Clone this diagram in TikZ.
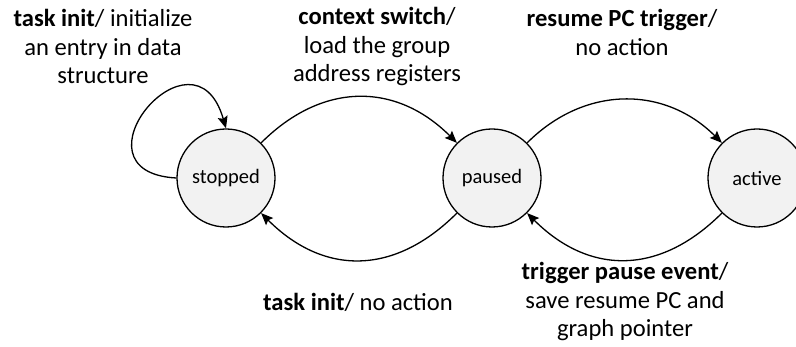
\documentclass[tikz,border=0pt]{standalone}
\usepackage{fontspec}
\setmainfont{Carlito}
\usetikzlibrary{arrows.meta}
\definecolor{statefill}{HTML}{F2F2F2}
\tikzset{
  state/.style={circle, draw=black, line width=1.3pt, fill=statefill,
    minimum size=98pt, inner sep=0pt, font=\fontsize{20.5}{24}\selectfont},
  trans/.style={draw=black, line width=1.3pt,
    -{Stealth[length=12pt,width=10pt,inset=2pt]}},
  lbl/.style={align=center, inner sep=0pt, font=\fontsize{24.6}{28.5}\selectfont}
}
\begin{document}
\begin{tikzpicture}[x=1pt,y=1pt]
  \clip (0,0) rectangle (796,347);
  % states
  \node[state] (s) at (226,169) {stopped};
  \node[state] (p) at (492,169) {paused};
  \node[state] (a) at (757,169) {active};
  % transitions
  \draw[trans] (s.west) .. controls +(-112,6) and +(-32,111) .. (s.north);
  \draw[trans] (s.45) to[out=45,in=135,looseness=1.13] (p.135);
  \draw[trans] (p.45) to[out=45,in=135,looseness=1.07] (a.135);
  \draw[trans] (a.-135) to[out=-135,in=-45,looseness=1.16] (p.-45);
  \draw[trans] (p.-135) to[out=-135,in=-45,looseness=1.16] (s.-45);
  % transition labels
  \node[lbl] (lInit) at (103,300.5) {\textbf{task init}/ initialize\\an entry in data\\structure};
  \node[lbl] (lCtx) at (377,300.5) {\textbf{context switch}/\\load the group\\address registers};
  \node[lbl] (lRes) at (622,314.5) {\textbf{resume PC trigger}/\\no action};
  \node[lbl] (lPause) at (625,45.5) {\textbf{trigger pause event}/\\save resume PC and\\graph pointer};
  \node[lbl] (lBack) at (358,45) {\textbf{task init}/ no action};
\end{tikzpicture}
\end{document}
